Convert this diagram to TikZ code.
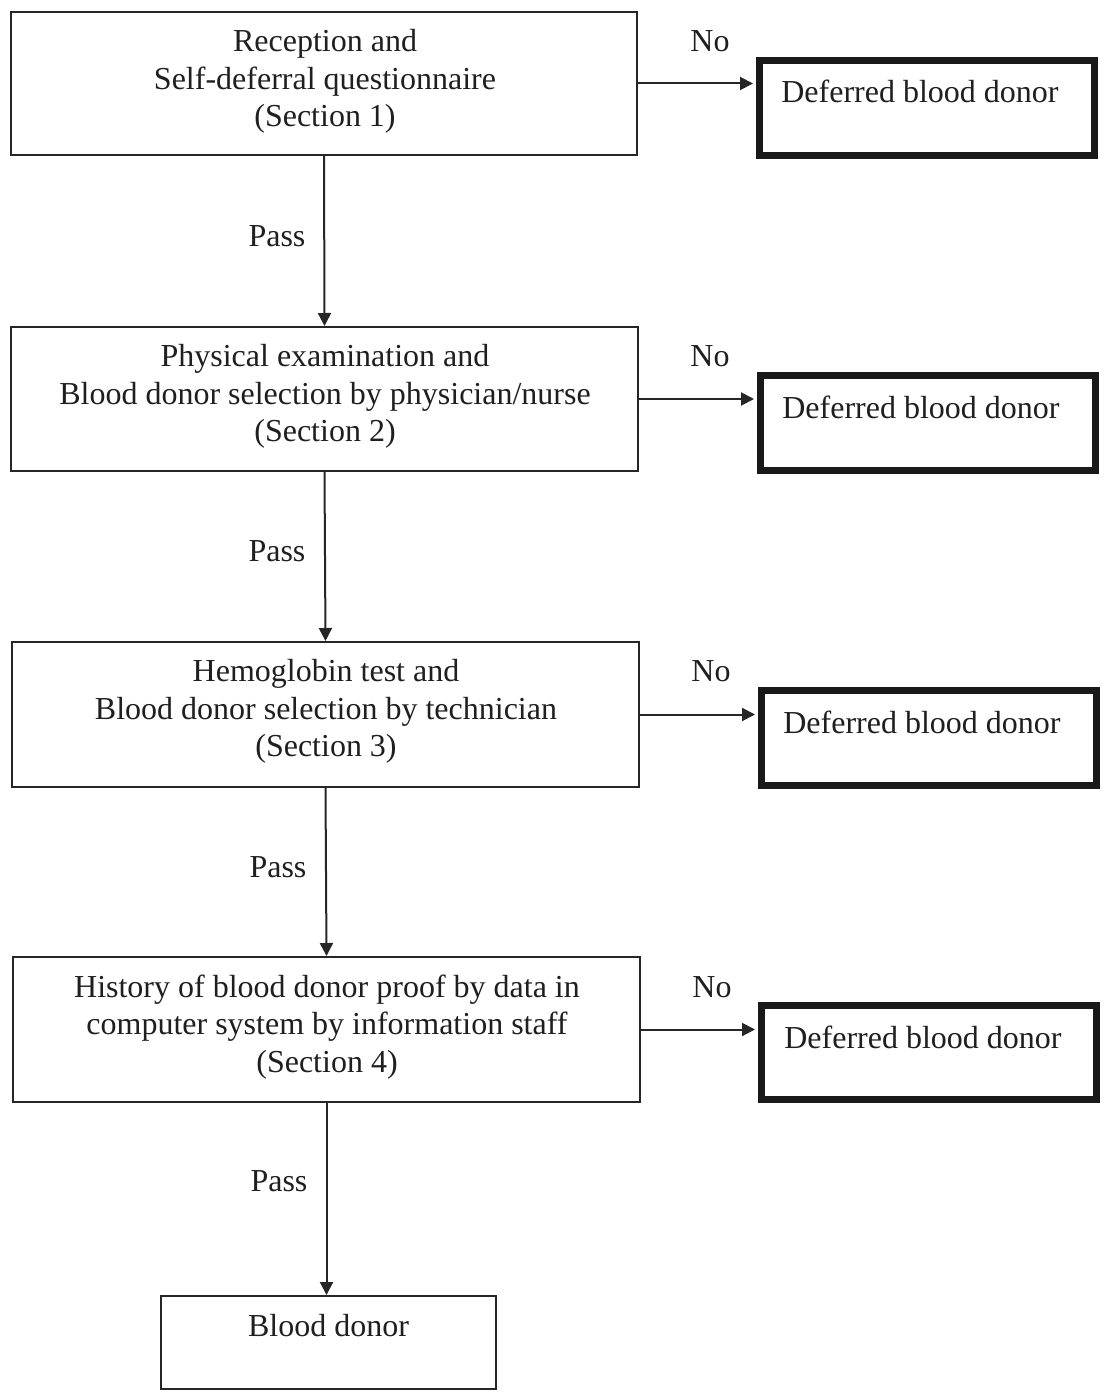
\documentclass[tikz,border=0pt]{standalone}
\usepackage{fontspec}
\setmainfont{Liberation Serif}
\usetikzlibrary{arrows.meta,calc}
\begin{document}
\begin{tikzpicture}[x=1pt,y=-1pt,
  every node/.style={font=\fontsize{32}{37.5}\selectfont, text=black!88},
  mainbox/.style={draw=black!85, line width=2pt, rectangle, inner sep=0pt, minimum width=627pt, minimum height=144pt},
  defbox/.style={draw=black!90, line width=7pt, rectangle, inner sep=0pt, minimum width=335pt, minimum height=95pt},
  endbox/.style={draw=black!85, line width=2pt, rectangle, inner sep=0pt, minimum width=335pt, minimum height=93pt},
  txt/.style={align=center, inner sep=0pt},
  lbl/.style={inner sep=0pt, anchor=base},
  conn/.style={draw=black!85, line width=2pt, -{Triangle[length=13pt,width=13pt]}}
]
\useasboundingbox (0,0) rectangle (1103,1394);
\fill[white] (0,0) rectangle (1103,1394);

% main boxes
\node[mainbox, minimum width=626pt, minimum height=143pt] (b1) at (324,83.5) {};
\node[mainbox, minimum width=627pt, minimum height=144pt] (b2) at (324.5,399) {};
\node[mainbox, minimum width=627pt, minimum height=145pt] (b3) at (325.5,714.5) {};
\node[mainbox, minimum width=627pt, minimum height=145pt] (b4) at (326.5,1029.5) {};
\node[endbox] (bd) at (328.5,1342.5) {};

% deferred boxes
\node[defbox] (d1) at (927,108) {};
\node[defbox] (d2) at (928,423) {};
\node[defbox] (d3) at (929,738) {};
\node[defbox, minimum height=94pt] (d4) at (929,1052.5) {};

% texts in boxes
\node[txt] (t1) at (325,81.5) {Reception and\\Self-deferral questionnaire\\(Section 1)};
\node[txt] (t2) at (325,396.5) {Physical examination and\\Blood donor selection by physician/nurse\\(Section 2)};
\node[txt] (t3) at (326,711.5) {Hemoglobin test and\\Blood donor selection by technician\\(Section 3)};
\node[txt] (t4) at (327,1027) {History of blood donor proof by data in\\computer system by information staff\\(Section 4)};
\node[lbl] (tbd) at (328.5,1336) {Blood donor};
\node[lbl] (td1) at (920,103) {Deferred blood donor};
\node[lbl] (td2) at (921,418) {Deferred blood donor};
\node[lbl] (td3) at (922,733) {Deferred blood donor};
\node[lbl] (td4) at (923,1048) {Deferred blood donor};

% connectors
\draw[conn] (b1.south) -- (b2.north);
\draw[conn] (b2.south) -- (b3.north);
\draw[conn] (b3.south) -- (b4.north);
\draw[conn] (b4.south) -- (bd.north -| b4.south);

\draw[conn, shorten >=3pt] (b1.east) -- (b1.east -| d1.west);
\draw[conn, shorten >=3pt] (b2.east) -- (b2.east -| d2.west);
\draw[conn, shorten >=3pt] (b3.east) -- (b3.east -| d3.west);
\draw[conn, shorten >=3pt] (b4.east) -- (b4.east -| d4.west);

% labels
\node[lbl] (p1) at (277,246.5) {Pass};
\node[lbl] (p2) at (277,561.5) {Pass};
\node[lbl] (p3) at (278,877) {Pass};
\node[lbl] (p4) at (279,1191.5) {Pass};
\node[lbl] (n1) at (710,52) {No};
\node[lbl] (n2) at (710,366.5) {No};
\node[lbl] (n3) at (711,681.5) {No};
\node[lbl] (n4) at (712,997) {No};
\end{tikzpicture}
\end{document}
